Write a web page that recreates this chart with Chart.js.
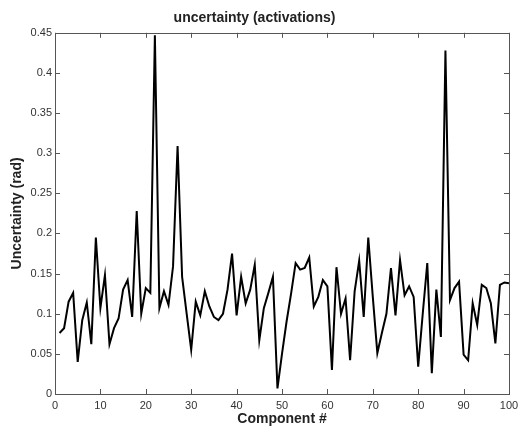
<!DOCTYPE html>
<html>
<head>
<meta charset="utf-8">
<script src="https://cdn.jsdelivr.net/npm/chart.js@4"></script>
<style>
    body { margin: 0; background: #fff; }
    #chartDiv { width: 520px; height: 426px; }
</style>
</head>
<body>
<div id="chartDiv"><canvas id="uncertaintyChart" width="520" height="426"></canvas></div>
<script>
// Component numbers 1..100 on the x axis
const components = Array.from({length: 100}, (_, i) => i + 1);

// Uncertainty (rad), one per component
const uncertainty = [
    0.076, 0.082, 0.115, 0.126, 0.040, 0.092, 0.114, 0.062, 0.195, 0.107,
    0.148, 0.062, 0.082, 0.094, 0.130, 0.142, 0.096, 0.228, 0.100, 0.132,
    0.126, 0.447, 0.107, 0.128, 0.111, 0.159, 0.309, 0.146, 0.100, 0.055,
    0.115, 0.098, 0.128, 0.109, 0.096, 0.092, 0.100, 0.130, 0.175, 0.098,
    0.146, 0.113, 0.130, 0.161, 0.067, 0.107, 0.126, 0.146, 0.007, 0.050,
    0.090, 0.125, 0.163, 0.155, 0.157, 0.170, 0.109, 0.121, 0.142, 0.134,
    0.030, 0.158, 0.100, 0.119, 0.042, 0.128, 0.166, 0.096, 0.195, 0.121,
    0.051, 0.076, 0.100, 0.157, 0.098, 0.167, 0.123, 0.134, 0.121, 0.034,
    0.100, 0.163, 0.026, 0.130, 0.071, 0.428, 0.117, 0.132, 0.140, 0.049,
    0.042, 0.113, 0.086, 0.136, 0.132, 0.113, 0.063, 0.136, 0.139, 0.138
];

const xTicks = [0, 10, 20, 30, 40, 50, 60, 70, 80, 90, 100];
const yTicks = [0, 0.05, 0.1, 0.15, 0.2, 0.25, 0.3, 0.35, 0.4, 0.45];

const FONT = "'Liberation Sans', Arial, Helvetica, sans-serif";

// matlab style box with inward ticks on all four sides
const boxTicks = {
    id: 'boxTicks',
    afterDraw(chart) {
        const ctx = chart.ctx;
        const a = chart.chartArea;
        const xs = chart.scales.x, ys = chart.scales.y;
        const len = 5;
        ctx.save();
        ctx.strokeStyle = '#555';
        ctx.lineWidth = 1;
        ctx.beginPath();
        xTicks.forEach(v => {
            const px = Math.round(xs.getPixelForValue(v)) + 0.5;
            ctx.moveTo(px, a.bottom); ctx.lineTo(px, a.bottom - len);
            ctx.moveTo(px, a.top); ctx.lineTo(px, a.top + len);
        });
        yTicks.forEach(v => {
            const py = Math.round(ys.getPixelForValue(v)) + 0.5;
            ctx.moveTo(a.left, py); ctx.lineTo(a.left + len, py);
            ctx.moveTo(a.right, py); ctx.lineTo(a.right - len, py);
        });
        ctx.stroke();
        ctx.strokeRect(Math.round(a.left) + 0.5, Math.round(a.top) + 0.5,
            Math.round(a.right - a.left), Math.round(a.bottom - a.top));
        ctx.restore();
    }
};

const chartData = {
    datasets: [{
        data: components.map((c, i) => ({x: c, y: uncertainty[i]})),
        borderColor: '#000',
        borderWidth: 2,
        pointRadius: 0,
        tension: 0,
        fill: false
    }]
};

new Chart(document.getElementById('uncertaintyChart'), {
    type: 'line',
    data: chartData,
    plugins: [boxTicks],
    options: {
        responsive: false,
        animation: false,
        layout: {padding: {left: 0, right: 11, top: 0, bottom: 0}},
        plugins: {
            legend: {display: false},
            tooltip: {enabled: false},
            title: {
                display: true,
                text: 'uncertainty (activations)',
                color: '#222',
                font: {family: FONT, size: 14, weight: 'bold', lineHeight: 1.2},
                padding: {top: 10, bottom: 6}
            }
        },
        scales: {
            x: {
                type: 'linear',
                min: 0, max: 100,
                afterBuildTicks: s => { s.ticks = xTicks.map(v => ({value: v})); },
                afterFit: s => { s.height = 32; s.paddingLeft = 0; s.paddingRight = 0; },
                grid: {display: false, drawTicks: false},
                border: {display: false},
                ticks: {
                    color: '#333',
                    font: {family: FONT, size: 11},
                    padding: 5,
                    maxRotation: 0,
                    autoSkip: false
                },
                title: {
                    display: true,
                    text: 'Component #',
                    color: '#222',
                    font: {family: FONT, size: 14, weight: 'bold', lineHeight: 1},
                    padding: {top: 0, bottom: 0}
                }
            },
            y: {
                min: 0, max: 0.45,
                afterBuildTicks: s => { s.ticks = yTicks.map(v => ({value: v})); },
                afterFit: s => { s.width = 55; s.paddingTop = 0; s.paddingBottom = 0; },
                grid: {display: false, drawTicks: false},
                border: {display: false},
                ticks: {
                    color: '#333',
                    font: {family: FONT, size: 11},
                    padding: 3,
                    autoSkip: false,
                    callback: v => String(Math.round(v * 100) / 100)
                },
                title: {
                    display: true,
                    text: 'Uncertainty (rad)',
                    color: '#222',
                    font: {family: FONT, size: 14, weight: 'bold', lineHeight: 1},
                    padding: {top: 10, bottom: 0}
                }
            }
        }
    }
});
</script>
</body>
</html>
